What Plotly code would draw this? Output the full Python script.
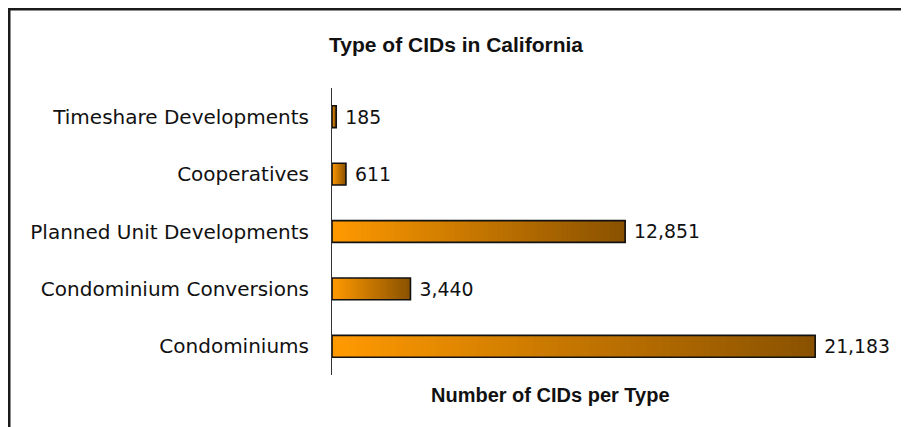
import plotly.graph_objects as go

categories = [
    "Condominiums",
    "Condominium Conversions",
    "Planned Unit Developments",
    "Cooperatives",
    "Timeshare Developments",
]
counts = [21183, 3440, 12851, 611, 185]

# the page body adds an 8px margin, so the figure is sized to fit inside it
W, H = 901, 419
ML, MR, MT, MB = 324, 49, 80, 52

# gradient: orange at the left of each bar to brown at the right
C0 = (255, 153, 0)
C1 = (138, 82, 0)
N = 60


def mix(t):
    r, g, b = (round(a + (b_ - a) * t) for a, b_ in zip(C0, C1))
    return f"rgb({r},{g},{b})"


fig = go.Figure()

# each layer starts further right and covers the previous one -> smooth gradient
for k in range(N):
    f = k / N
    fig.add_trace(go.Bar(
        y=categories,
        x=[v * (1 - f) for v in counts],
        base=[v * f for v in counts],
        orientation="h",
        width=0.38,
        marker=dict(color=mix(k / (N - 1)), line=dict(width=0)),
        hoverinfo="skip",
        showlegend=False,
    ))

# outline + value labels
fig.add_trace(go.Bar(
    y=categories,
    x=counts,
    orientation="h",
    width=0.38,
    marker=dict(color="rgba(0,0,0,0)", line=dict(color="#111111", width=1.6)),
    text=[f" {v:,}" for v in counts],
    textposition="outside",
    textfont=dict(family="DejaVu Sans", size=19, color="#111111"),
    cliponaxis=False,
    showlegend=False,
    name="CIDs",
))

pw = W - ML - MR
ph = H - MT - MB

fig.update_layout(
    width=W, height=H,
    margin=dict(l=ML, r=MR, t=MT, b=MB),
    barmode="overlay",
    paper_bgcolor="white",
    plot_bgcolor="white",
    title=dict(
        text="<b>Type of CIDs in California</b>",
        x=448 / W, xanchor="center",
        y=1 - 37 / H, yanchor="middle",
        font=dict(family="Liberation Sans, Arial", size=21, color="#111111"),
    ),
    xaxis=dict(
        range=[0, 23150],
        showgrid=False, zeroline=False, showline=False,
        showticklabels=False, ticks="",
    ),
    yaxis=dict(
        showgrid=False, zeroline=False,
        showline=True, linecolor="#333333", linewidth=1,
        ticks="", ticklabelstandoff=18,
        tickfont=dict(family="DejaVu Sans", size=20, color="#111111"),
    ),
    annotations=[dict(
        text="<b>Number of CIDs per Type</b>",
        xref="paper", yref="paper",
        x=(542 - ML) / pw, y=(MT + ph - 387) / ph,
        xanchor="center", yanchor="middle",
        showarrow=False,
        font=dict(family="Liberation Sans, Arial", size=20, color="#111111"),
    )],
    # frame round the whole chart (only its top and left edges are in view)
    shapes=[dict(
        type="rect", xref="paper", yref="paper",
        x0=(1.25 - ML) / pw, x1=1.5,
        y0=-1.0, y1=(MT + ph - 1.25) / ph,
        line=dict(color="#1a1a1a", width=2.5),
        fillcolor="rgba(0,0,0,0)",
        layer="below",
    )],
)

fig.write_html("out.html")
